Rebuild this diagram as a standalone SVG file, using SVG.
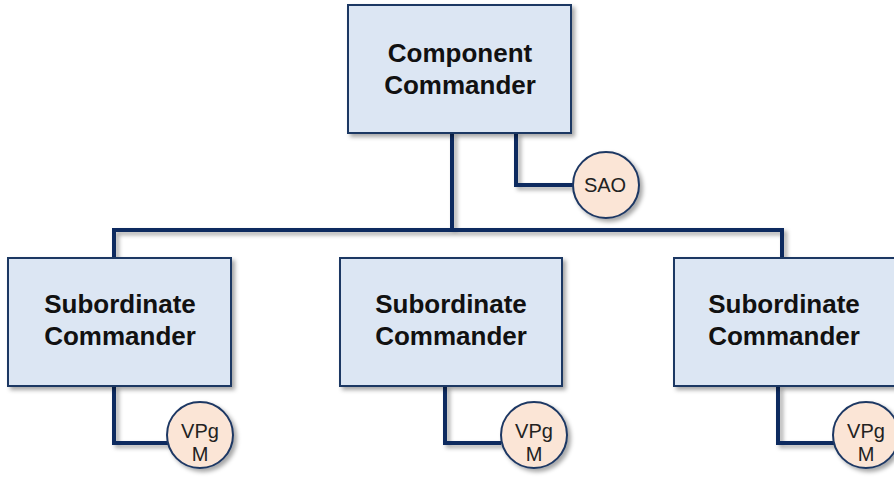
<svg xmlns="http://www.w3.org/2000/svg" width="894" height="477" viewBox="0 0 894 477">
<defs>
<filter id="sh" x="-10%" y="-10%" width="130%" height="130%">
<feDropShadow dx="3" dy="3" stdDeviation="2" flood-color="#000" flood-opacity="0.35"/>
</filter>
<style>
.box{fill:#dce6f3;stroke:#1f3864;stroke-width:2;filter:url(#sh)}
.circ{fill:#fbe5d6;stroke:#1f3864;stroke-width:2;filter:url(#sh)}
.ln{fill:none;stroke:#0d2a5e;stroke-width:4;filter:url(#sh)}
.t{font-family:"Liberation Sans",Arial,sans-serif;font-weight:bold;font-size:26px;fill:#111;text-anchor:middle}
.c{font-family:"Liberation Sans",Arial,sans-serif;font-size:20px;fill:#222;text-anchor:middle}
</style>
</defs>
<rect width="894" height="477" fill="#fff"/>
<g id="connectors">
<path class="ln" d="M452 133 V230 M114 258 V230 H782 V258"/>
<path class="ln" d="M516 133 V185 H574"/>
<path class="ln" d="M114 386 V443 H168"/>
<path class="ln" d="M445 386 V443 H501"/>
<path class="ln" d="M778 386 V443 H834"/>
</g>
<g id="component-commander">
<rect class="box" x="348" y="5" width="223" height="128"/>
<text class="t" x="460" y="62">Component</text>
<text class="t" x="460" y="94">Commander</text>
</g>
<g id="sao">
<circle class="circ" cx="606" cy="185" r="33"/>
<text class="c" x="605" y="192">SAO</text>
</g>
<g id="sub1">
<rect class="box" x="8" y="258" width="223" height="128"/>
<text class="t" x="120" y="313">Subordinate</text>
<text class="t" x="120" y="345">Commander</text>
</g>
<g id="sub2">
<rect class="box" x="340" y="258" width="222" height="128"/>
<text class="t" x="451" y="313">Subordinate</text>
<text class="t" x="451" y="345">Commander</text>
</g>
<g id="sub3">
<rect class="box" x="674" y="258" width="223" height="128"/>
<text class="t" x="784" y="313">Subordinate</text>
<text class="t" x="784" y="345">Commander</text>
</g>
<g id="vpgm1">
<circle class="circ" cx="200" cy="435" r="33"/>
<text class="c" x="200" y="438">VPg</text>
<text class="c" x="200" y="461">M</text>
</g>
<g id="vpgm2">
<circle class="circ" cx="534" cy="435" r="33"/>
<text class="c" x="534" y="438">VPg</text>
<text class="c" x="534" y="461">M</text>
</g>
<g id="vpgm3">
<circle class="circ" cx="866" cy="435" r="33"/>
<text class="c" x="866" y="438">VPg</text>
<text class="c" x="866" y="461">M</text>
</g>
</svg>
